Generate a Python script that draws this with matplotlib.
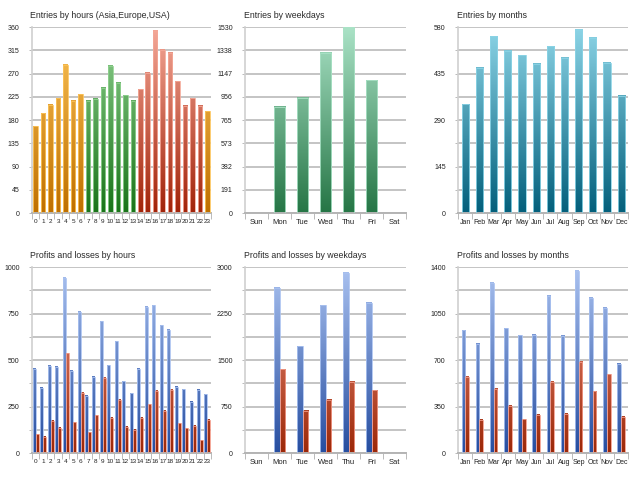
import numpy as np
import matplotlib
matplotlib.use('Agg')
import matplotlib.pyplot as plt
from matplotlib.colors import LinearSegmentedColormap
from matplotlib.ticker import FixedLocator, NullFormatter

plt.rcParams['font.family'] = ['Liberation Sans Narrow', 'Liberation Sans', 'DejaVu Sans']

# 数据
hours = [str(h) for h in range(24)]
weekdays = ['Sun', 'Mon', 'Tue', 'Wed', 'Thu', 'Fri', 'Sat']
months = ['Jan', 'Feb', 'Mar', 'Apr', 'May', 'Jun', 'Jul', 'Aug', 'Sep', 'Oct', 'Nov', 'Dec']

entries_hours = [168, 193, 210, 222, 287, 217, 230, 217, 221, 242, 285, 252,
                 228, 217, 240, 272, 353, 316, 310, 255, 208, 222, 208, 197]
# 0: Asia, 1: Europe, 2: USA
hour_region = [0] * 7 + [1] * 7 + [2] * 9 + [0]

entries_weekdays = [0, 874, 951, 1317, 1525, 1093, 0]
entries_months = [339, 454, 551, 506, 492, 466, 520, 485, 572, 546, 469, 365]

profit_hours = [452, 352, 468, 464, 943, 443, 759, 307, 411, 709, 473, 602,
                387, 321, 452, 786, 795, 688, 664, 355, 343, 277, 339, 316]
loss_hours = [102, 89, 173, 137, 536, 166, 325, 112, 204, 404, 191, 287,
              141, 125, 189, 262, 336, 229, 339, 161, 134, 146, 68, 179]

profit_weekdays = [0, 2668, 1720, 2384, 2904, 2421, 0]
loss_weekdays = [0, 1350, 686, 862, 1152, 1012, 0]

profit_months = [925, 822, 1282, 940, 887, 890, 1182, 885, 1370, 1170, 1095, 670]
loss_months = [575, 250, 482, 357, 255, 287, 535, 295, 685, 465, 592, 275]

# 颜色 (底部, 顶部)
ORANGE = ('#bf7000', '#fcc45a')
GREEN = ('#1a741a', '#92d292')
RED = ('#a2240a', '#f4a898')
GREEN2 = ('#267646', '#aae2c6')
TEAL = ('#04607c', '#8cd4e6')
BLUE = ('#274ea0', '#aac2f0')
RED2 = ('#9c2808', '#f29a88')


def grad_bar(ax, x, h, w, colors, ymax):
    if h <= 0:
        return
    cmap = LinearSegmentedColormap.from_list('g', [colors[0], colors[1]])
    img = np.linspace(0, h / ymax, 64).reshape(-1, 1)
    ax.imshow(img, cmap=cmap, vmin=0, vmax=1, origin='lower', aspect='auto',
              extent=(x - w / 2, x + w / 2, 0, h), zorder=2, interpolation='bilinear')
    ax.bar(x, h, w, facecolor='none', edgecolor=colors[1], linewidth=0.6, zorder=3)


def style_axes(ax, title, cats, ymax, major, minor, major_labels=None, xsize=5.5):
    n = len(cats)
    ax.set_xlim(-0.5, n - 0.5)
    ax.set_ylim(0, ymax)
    ax.set_xticks(range(n))
    ax.set_xticklabels(cats)
    ax.xaxis.set_minor_locator(FixedLocator(np.arange(-0.5, n, 1.0)))
    ax.tick_params(axis='x', which='major', length=0, pad=4, labelsize=xsize, colors='#222222')
    ax.tick_params(axis='x', which='minor', length=4, width=0.6, color='#b0b0b0')
    ax.set_yticks(major)
    if major_labels is not None:
        ax.set_yticklabels(major_labels)
    ax.yaxis.set_minor_locator(FixedLocator(minor))
    ax.yaxis.set_minor_formatter(NullFormatter())
    ax.tick_params(axis='y', which='both', length=2, width=0.6,
                   labelsize=5, colors='#222222', pad=7)
    ax.tick_params(axis='y', which='both', color='#b0b0b0')
    ax.grid(True, axis='y', which='both', color='#c4c4c4', linewidth=1.4, zorder=0)
    ax.set_axisbelow(True)
    for s in ['top', 'right']:
        ax.spines[s].set_visible(False)
    ax.spines['left'].set_color('#d0d0d0')
    ax.spines['left'].set_linewidth(1.2)
    ax.spines['bottom'].set_color('#b4b4b4')
    ax.spines['bottom'].set_linewidth(1.4)
    ax.text(-0.01, 1.05, title, transform=ax.transAxes, fontsize=6.3,
            color='#2a2a2a', va='baseline', ha='left')


fig = plt.figure(figsize=(6.4, 4.8), dpi=100)

lefts = [0.05, 0.383, 0.716]
widths = [0.28, 0.2516, 0.2656]
bottoms = [0.556, 0.056]
height = 0.3875

axs = [[fig.add_axes([lefts[c], bottoms[r], widths[c], height]) for c in range(3)] for r in range(2)]

# 按小时的条目
ax = axs[0][0]
region_colors = [ORANGE, GREEN, RED]
for i, v in enumerate(entries_hours):
    grad_bar(ax, i, v, 0.6, region_colors[hour_region[i]], 360)
style_axes(ax, 'Entries by hours (Asia,Europe,USA)', hours, 360,
           np.arange(0, 361, 45), np.arange(0, 361, 45), xsize=4.6)

# 按工作日的条目
ax = axs[0][1]
for i, v in enumerate(entries_weekdays):
    grad_bar(ax, i, v, 0.5, GREEN2, 1530)
wd_ticks = np.linspace(0, 1530, 9)
style_axes(ax, 'Entries by weekdays', weekdays, 1530, wd_ticks, wd_ticks,
           ['0', '191', '382', '573', '765', '956', '1147', '1338', '1530'])

# 按月的条目
ax = axs[0][2]
for i, v in enumerate(entries_months):
    grad_bar(ax, i, v, 0.5, TEAL, 580)
style_axes(ax, 'Entries by months', months, 580,
           np.arange(0, 581, 145), np.arange(0, 581, 72.5), xsize=5)

# 盈亏 - 小时
ax = axs[1][0]
for i in range(24):
    grad_bar(ax, i - 0.2, profit_hours[i], 0.4, BLUE, 1000)
    grad_bar(ax, i + 0.2, loss_hours[i], 0.4, RED2, 1000)
style_axes(ax, 'Profits and losses by hours', hours, 1000,
           np.arange(0, 1001, 250), np.arange(0, 1001, 125), xsize=4.6)

# 盈亏 - 工作日
ax = axs[1][1]
for i in range(7):
    grad_bar(ax, i - 0.125, profit_weekdays[i], 0.25, BLUE, 3000)
    grad_bar(ax, i + 0.125, loss_weekdays[i], 0.25, RED2, 3000)
style_axes(ax, 'Profits and losses by weekdays', weekdays, 3000,
           np.arange(0, 3001, 750), np.arange(0, 3001, 375))

# 盈亏 - 月
ax = axs[1][2]
for i in range(12):
    grad_bar(ax, i - 0.13, profit_months[i], 0.26, BLUE, 1400)
    grad_bar(ax, i + 0.13, loss_months[i], 0.26, RED2, 1400)
style_axes(ax, 'Profits and losses by months', months, 1400,
           np.arange(0, 1401, 350), np.arange(0, 1401, 175), xsize=5)

fig.savefig('out.png', dpi=100)
